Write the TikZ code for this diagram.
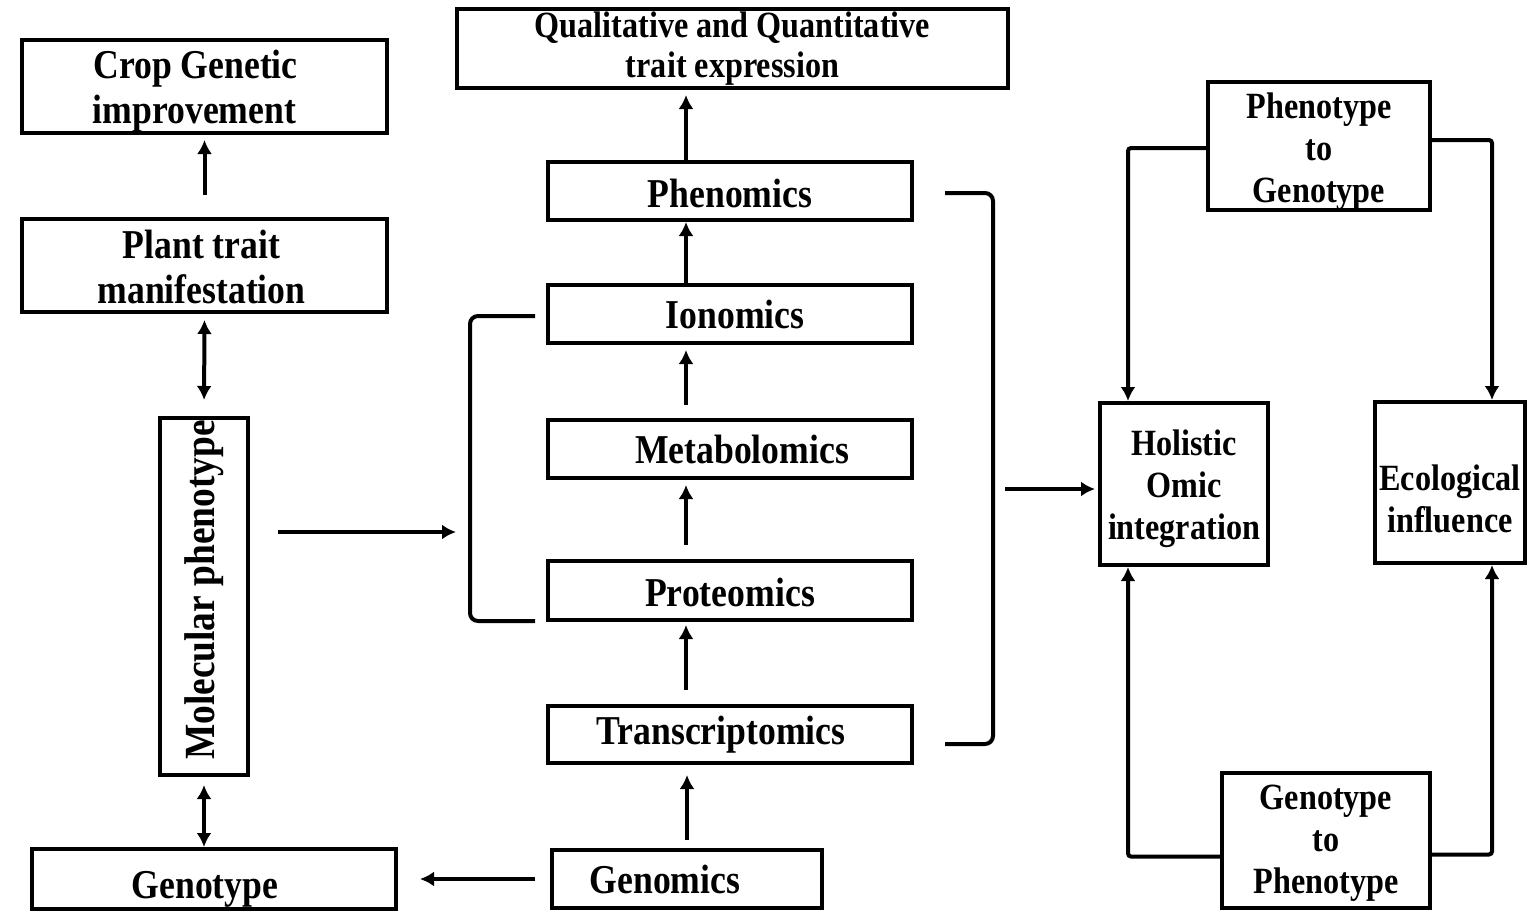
\documentclass[tikz,border=0pt]{standalone}
\usepackage{fontspec}
\setmainfont{Liberation Serif}[FakeStretch=0.87]
\usetikzlibrary{arrows.meta,calc}
\newcommand\bigf{\fontsize{41}{45}\selectfont\bfseries}
\newcommand\smallf{\fontsize{37}{42}\selectfont\bfseries}
\newcommand\qualf{\fontsize{37}{40}\selectfont\bfseries}
\newcommand\molf{\fontsize{43}{45}\selectfont\bfseries}
\newcommand\mv[1]{\hspace*{#1}\hspace*{#1}}
\begin{document}
\begin{tikzpicture}[x=1pt,y=-1pt,
  box/.style={draw,line width=4pt,inner sep=0pt,align=center,font=\bigf},
  arr/.style={line width=4pt,-{Latex[length=14pt,width=15pt]}},
  darr/.style={line width=4pt,{Latex[length=14pt,width=15pt]}-{Latex[length=14pt,width=15pt]}},
  brk/.style={line width=4pt,rounded corners=8pt},
  elb/.style={arr,rounded corners=3pt}]
\fill[white] (0,0) rectangle (1535,924);
\useasboundingbox (0,0) rectangle (1535,924);
% left column
\node[box,minimum width=365pt,minimum height=93pt] (crop) at (204.5,86.5) {\rule{0pt}{38pt}\mv{-9pt}Crop Genetic\\\mv{-10pt}improvement};
\node[box,minimum width=365pt,minimum height=93pt] (plant) at (204.5,265.5) {\rule{0pt}{32pt}\mv{-3pt}Plant trait\\\mv{-3pt}manifestation};
\node[box,rotate=90,font=\molf,minimum width=357pt,minimum height=88pt] (mol) at (204,596.5) {\mv{6.5pt}Molecular phenotype};
\node[box,minimum width=364pt,minimum height=60pt] (geno) at (214,879) {\rule{0pt}{48pt}\mv{-9pt}Genotype};
% middle column
\node[box,font=\qualf,minimum width=551pt,minimum height=79pt] (qual) at (732.5,48.5) {Qualitative and Quantitative\\trait expression};
\node[box,minimum width=364pt,minimum height=58pt] (phen) at (730,191) {\rule{0pt}{33pt}Phenomics};
\node[box,minimum width=364pt,minimum height=58pt] (iono) at (730,314) {\mv{5pt}Ionomics};
\node[box,minimum width=364pt,minimum height=58pt] (meta) at (730,449) {\mv{12pt}Metabolomics};
\node[box,minimum width=364pt,minimum height=59pt] (prot) at (730,590.5) {\rule{0pt}{33pt}Proteomics};
\node[box,minimum width=364pt,minimum height=57pt] (trans) at (730,734.5) {\mv{-9pt}Transcriptomics};
\node[box,minimum width=270pt,minimum height=58pt] (genom) at (687,879) {\mv{-22pt}Genomics};
% right part
\node[box,font=\smallf,minimum width=168pt,minimum height=162pt] (holi) at (1184,484) {\rule{0pt}{36pt}Holistic\\Omic\\integration};
\node[box,font=\smallf,minimum width=150pt,minimum height=161pt] (eco) at (1450,482.5) {\rule{0pt}{58pt}Ecological\\influence};
\node[box,font=\smallf,minimum width=222pt,minimum height=128pt] (ptg) at (1319,146) {\rule{0pt}{36pt}Phenotype\\to\\Genotype};
\node[box,font=\smallf,minimum width=208pt,minimum height=135pt] (gtp) at (1326,840.5) {\rule{0pt}{30pt}Genotype\\to\\Phenotype};
% left connectors
\draw[arr,shorten <=22pt,shorten >=5pt] (plant.north) -- (crop.south);
\draw[darr,shorten <=6pt,shorten >=16pt] (plant.south) -- (mol.east);
\draw[darr,shorten <=8pt] (mol.west) -- (mol.west |- geno.north);
\draw[arr,shorten <=15pt,shorten >=22pt] (genom.west) -- (geno.east);
% middle chain
\draw[arr,shorten >=5pt] ([xshift=-44pt]phen.north) -- ([xshift=-44pt]phen.north |- qual.south);
\draw[arr] ([xshift=-44pt]iono.north) -- ([xshift=-44pt]phen.south);
\draw[arr,shorten <=13pt,shorten >=5pt] ([xshift=-44pt]meta.north) -- ([xshift=-44pt]iono.south);
\draw[arr,shorten <=14pt,shorten >=5pt] ([xshift=-44pt]prot.north) -- ([xshift=-44pt]meta.south);
\draw[arr,shorten <=14pt,shorten >=3pt] ([xshift=-44pt]trans.north) -- ([xshift=-44pt]prot.south);
\draw[arr,shorten <=8pt,shorten >=10pt] (genom.north) -- (genom.north |- trans.south);
% brackets
\coordinate (lb1) at (535,316);
\coordinate (lb2) at (535,621);
\coordinate (lbm) at (470,532);
\draw[brk] (lb1) -| (lbm) |- (lb2);
\draw[arr,shorten <=28pt,shorten >=14pt] (mol.south |- lbm) -- (lbm);
\coordinate (rb1) at (945,193);
\coordinate (rb2) at (945,744);
\coordinate (rbm) at (993,489);
\draw[brk] (rb1) -| (rbm) |- (rb2);
\draw[arr,shorten <=12pt,shorten >=3pt] (rbm) -- (rbm -| holi.west);
% right connectors
\draw[elb] ([yshift=-2pt]ptg.west) -| ([xshift=-56pt]holi.north);
\draw[elb] ([yshift=6pt]ptg.east) -| ([xshift=42pt]eco.north);
\draw[elb] ([yshift=-16pt]gtp.west) -| ([xshift=-56pt]holi.south);
\draw[elb] ([yshift=-14pt]gtp.east) -| ([xshift=42pt]eco.south);
\end{tikzpicture}
\end{document}
